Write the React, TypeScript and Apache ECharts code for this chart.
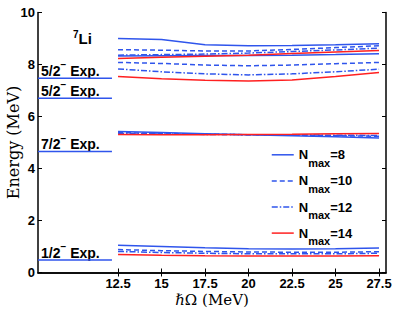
import React, { useEffect, useRef } from 'react';
import * as echarts from 'echarts';

// ---- data ----
const HW = [12.5, 15, 17.5, 20, 22.5, 25, 27.5];
const X_TICKS = [12.5, 15, 17.5, 20, 22.5, 25, 27.5];
const X_MIN = 7.9;
const X_MAX = 27.9;
const EXP_END = 12.15;

const EXP_LEVELS = [0.48, 4.65, 6.7, 7.47];
const EXP_LABELS = ['1/2', '7/2', '5/2', '5/2'];

const NMAX = [8, 10, 12, 14];

// 1/2- state
const HALF_N8 = [1.05, 1.0, 0.95, 0.91, 0.9, 0.91, 0.94];
const HALF_N10 = [0.88, 0.84, 0.81, 0.79, 0.78, 0.78, 0.8];
const HALF_N12 = [0.81, 0.77, 0.74, 0.72, 0.72, 0.72, 0.74];
const HALF_N14 = [0.69, 0.66, 0.64, 0.63, 0.63, 0.63, 0.64];
// 7/2- state
const SEVEN_N8 = [5.42, 5.38, 5.34, 5.3, 5.26, 5.22, 5.17];
const SEVEN_N10 = [5.38, 5.35, 5.32, 5.3, 5.28, 5.26, 5.24];
const SEVEN_N12 = [5.35, 5.33, 5.31, 5.3, 5.29, 5.28, 5.27];
const SEVEN_N14 = [5.31, 5.3, 5.3, 5.31, 5.32, 5.34, 5.35];
// first 5/2- state
const FIVE1_N8 = [8.33, 8.34, 8.35, 8.35, 8.36, 8.38, 8.41];
const FIVE1_N10 = [8.08, 8.04, 7.98, 7.95, 7.98, 8.03, 8.08];
const FIVE1_N12 = [7.83, 7.72, 7.64, 7.6, 7.64, 7.72, 7.82];
const FIVE1_N14 = [7.54, 7.45, 7.39, 7.37, 7.4, 7.54, 7.69];
// second 5/2- state
const FIVE2_N8 = [9.0, 8.96, 8.76, 8.72, 8.73, 8.76, 8.8];
const FIVE2_N10 = [8.57, 8.55, 8.52, 8.52, 8.58, 8.65, 8.72];
const FIVE2_N12 = [8.36, 8.38, 8.4, 8.44, 8.5, 8.56, 8.63];
const FIVE2_N14 = [8.23, 8.28, 8.32, 8.36, 8.42, 8.48, 8.54];

const STATES_BY_NMAX = [
  [HALF_N8, SEVEN_N8, FIVE1_N8, FIVE2_N8],
  [HALF_N10, SEVEN_N10, FIVE1_N10, FIVE2_N10],
  [HALF_N12, SEVEN_N12, FIVE1_N12, FIVE2_N12],
  [HALF_N14, SEVEN_N14, FIVE1_N14, FIVE2_N14],
];

// ---- styles ----
const SANS = '"Liberation Sans", Arial, Helvetica, sans-serif';
const SERIF = '"DejaVu Serif", serif';
const BLUE = '#2f55ec';
const RED = '#ff2020';
const LINE_STYLES: any[] = [
  { color: BLUE, type: 'solid' },
  { color: BLUE, type: [5, 3] },
  { color: BLUE, type: [6, 2, 1.5, 2] },
  { color: RED, type: 'solid' },
];

export default function App() {
  const ref = useRef<HTMLDivElement>(null);
  useEffect(() => {
    if (!ref.current) return;
    const chart = echarts.init(ref.current, undefined, { renderer: 'svg' });

    const names = NMAX.map((n) => `Nmax=${n}`);
    const series: any[] = [];
    EXP_LEVELS.forEach((e) => {
      series.push({
        type: 'line',
        name: 'exp',
        symbol: 'none',
        silent: true,
        lineStyle: { color: BLUE, width: 1.5 },
        itemStyle: { color: BLUE },
        data: [
          [X_MIN, e],
          [EXP_END, e],
        ],
      });
    });
    NMAX.forEach((n, k) => {
      STATES_BY_NMAX[k].forEach((arr) => {
        series.push({
          type: 'line',
          name: names[k],
          symbol: 'none',
          silent: true,
          lineStyle: { color: LINE_STYLES[k].color, width: 1.5, type: LINE_STYLES[k].type },
          itemStyle: { color: LINE_STYLES[k].color },
          data: HW.map((x, i) => [x, arr[i]]),
        });
      });
    });

    const axisLine = { lineStyle: { color: '#000', width: 1.5 } };
    const tickStyle = { color: '#000', width: 1 };
    const labelStyle = { color: '#000', fontFamily: SANS, fontWeight: 'bold' as const, fontSize: 13 };

    chart.setOption({
      animation: false,
      grid: { left: 38, right: 9, top: 12.5, bottom: 36.5, containLabel: false, outerBoundsMode: 'none' },
      legend: {
        data: names,
        orient: 'vertical',
        left: 271,
        top: 148.3,
        padding: 0,
        itemWidth: 22,
        itemHeight: 14,
        itemGap: 6.1,
        lineStyle: { width: 1.5 },
        itemStyle: { opacity: 0 },
        selectedMode: false,
        formatter: (name: string) => `{n|N}{s|max}{n|=${name.slice(5)}}`,
        textStyle: {
          rich: {
            n: { fontSize: 13, fontWeight: 'bold', fontFamily: SANS, color: '#000', lineHeight: 24 },
            s: { fontSize: 11, fontWeight: 'bold', fontFamily: SANS, color: '#000', verticalAlign: 'bottom', height: 8 },
          },
        },
      },
      xAxis: [
        {
          type: 'value',
          min: X_MIN,
          max: X_MAX,
          position: 'bottom',
          axisLine,
          axisTick: { inside: true, length: 4, customValues: X_TICKS, lineStyle: tickStyle },
          axisLabel: { ...labelStyle, customValues: X_TICKS, margin: 4 },
          splitLine: { show: false },
          name: 'ℏΩ (MeV)',
          nameLocation: 'middle',
          nameGap: 19.5,
          nameMoveOverlap: false,
          nameTextStyle: { fontFamily: SERIF, fontSize: 15, color: '#000' },
        },
        {
          type: 'value',
          min: X_MIN,
          max: X_MAX,
          position: 'top',
          axisLine,
          axisTick: { inside: true, length: 4, customValues: X_TICKS, lineStyle: tickStyle },
          axisLabel: { show: false },
          splitLine: { show: false },
        },
      ],
      yAxis: [
        {
          type: 'value',
          min: 0,
          max: 10,
          interval: 2,
          position: 'left',
          axisLine,
          axisTick: { inside: true, length: 4, lineStyle: tickStyle },
          axisLabel: { ...labelStyle, margin: 3 },
          splitLine: { show: false },
          name: 'Energy (MeV)',
          nameLocation: 'middle',
          nameGap: 17,
          nameMoveOverlap: false,
          nameTextStyle: { fontFamily: SERIF, fontSize: 16, color: '#000' },
        },
        {
          type: 'value',
          min: 0,
          max: 10,
          interval: 2,
          position: 'right',
          axisLine,
          axisTick: { inside: true, length: 4, lineStyle: tickStyle },
          axisLabel: { show: false },
          splitLine: { show: false },
        },
      ],
      series,
    });

    const labelRich = {
      a: { fontSize: 14, fontWeight: 'bold', fontFamily: SANS, fill: '#000', lineHeight: 16 },
      s: { fontSize: 10, fontWeight: 'bold', fontFamily: SANS, fill: '#000', verticalAlign: 'top', height: 4 },
    };
    const graphics: any[] = EXP_LEVELS.map((e, i) => {
      const pt = chart.convertToPixel({ gridIndex: 0 }, [X_MIN, e]) as number[];
      return {
        type: 'text',
        x: pt[0] + 3,
        y: pt[1] + 0.5,
        style: {
          text: `{a|${EXP_LABELS[i]}}{s|−}{a| Exp.}`,
          rich: labelRich,
          verticalAlign: 'bottom',
          align: 'left',
          fill: '#000',
        },
      };
    });
    graphics.push({
      type: 'text',
      x: 73,
      y: 30,
      style: {
        text: '{s|7}{b|Li}',
        verticalAlign: 'top',
        align: 'left',
        rich: {
          s: { fontSize: 10, fontWeight: 'bold', fontFamily: SANS, fill: '#000', verticalAlign: 'top', height: 8 },
          b: { fontSize: 15, fontWeight: 'bold', fontFamily: SANS, fill: '#000', lineHeight: 16 },
        },
      },
    });
    chart.setOption({ graphic: graphics });

    return () => chart.dispose();
  }, []);
  return <div ref={ref} style={{ width: 395, height: 309, position: 'absolute', left: 0, top: 0 }} />;
}
